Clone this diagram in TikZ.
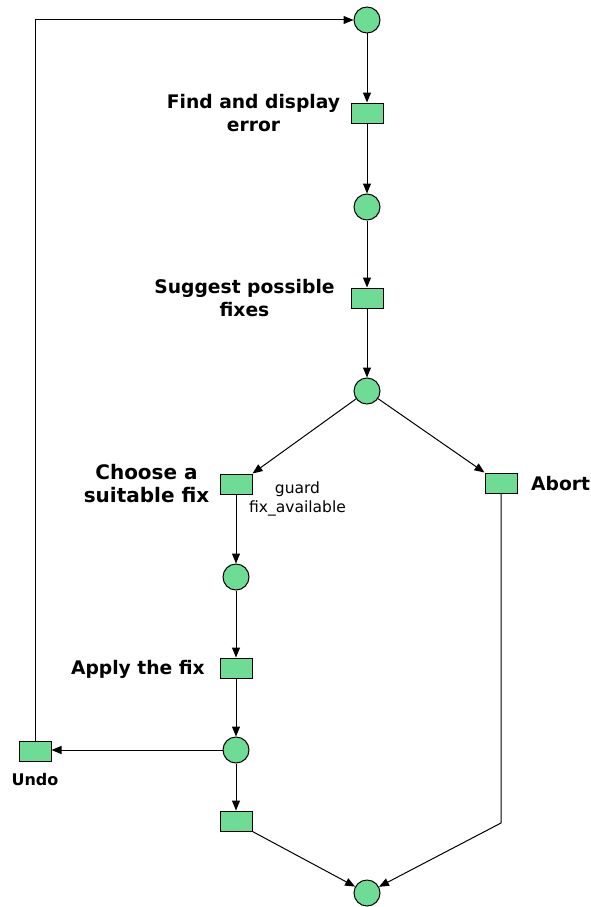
\documentclass[tikz,border=0pt]{standalone}
\usepackage{fontspec}
\setmainfont{DejaVu Sans}
\usetikzlibrary{arrows.meta}
\definecolor{pn}{RGB}{111,220,149}
\begin{document}
\begin{tikzpicture}[x=1pt,y=-1pt,
  place/.style={circle,draw,fill=pn,line width=1pt,minimum size=26pt,inner sep=0pt},
  trans/.style={rectangle,draw,fill=pn,line width=1pt,minimum width=32pt,minimum height=20pt,inner sep=0pt},
  lbl/.style={font=\fontsize{18.7}{23}\selectfont\bfseries,align=center,inner sep=0pt},
  small/.style={font=\fontsize{15.5}{19}\selectfont,align=center,inner sep=0pt},
  arc/.style={line width=1pt,-{Triangle[length=10pt,width=8pt]}}]
\useasboundingbox (0,0) rectangle (590,907);
\node[place] (p1) at (367,20) {};
\node[trans] (t1) at (367,113) {};
\node[place] (p2) at (367,207) {};
\node[trans] (t2) at (367,298) {};
\node[place] (p3) at (367,391) {};
\node[trans] (t3) at (236,484) {};
\node[trans] (t4) at (501,483) {};
\node[place] (p4) at (236,577) {};
\node[trans] (t5) at (236,668) {};
\node[place] (p5) at (236,750) {};
\node[trans] (t6) at (35,751) {};
\node[trans] (t7) at (236,821) {};
\node[place] (p6) at (367,893) {};
\coordinate (c1) at (35,20);
\coordinate (c2) at (501,823);

\node[lbl] (l1) at (253.5,113) {Find and display\\error};
\node[lbl] (l2) at (244.5,298) {Suggest possible\\fixes};
\node[lbl,font=\fontsize{20}{23}\selectfont\bfseries] (l3) at (146.5,484) {Choose a\\suitable fix};
\node[small] (g) at (297.5,499) {guard\\fix\_available};
\node[lbl,anchor=east] (l5) at (205,669) {Apply the fix};
\node[lbl,anchor=west] (l4) at (531,484) {Abort};
\node[lbl,font=\fontsize{16}{19}\selectfont\bfseries] (l6) at (35,780) {Undo};

\draw[arc] (p1) -- (t1);
\draw[arc] (t1) -- (p2);
\draw[arc] (p2) -- (t2);
\draw[arc] (t2) -- (p3);
\draw[arc] (p3) -- (t3.north east);
\draw[arc] (p3) -- (t4.north west);
\draw[arc] (t3) -- (p4);
\draw[arc] (p4) -- (t5);
\draw[arc] (t5) -- (p5);
\draw[arc] (p5.west) -- (t6.east |- p5.west);
\draw[arc] (p5) -- (t7);
\draw[arc] (t6.north) -- (c1) -- (p1);
\draw[arc] (t4.south) -- (c2) -- (p6);
\draw[arc] (t7.south east) -- (p6);
\end{tikzpicture}
\end{document}
